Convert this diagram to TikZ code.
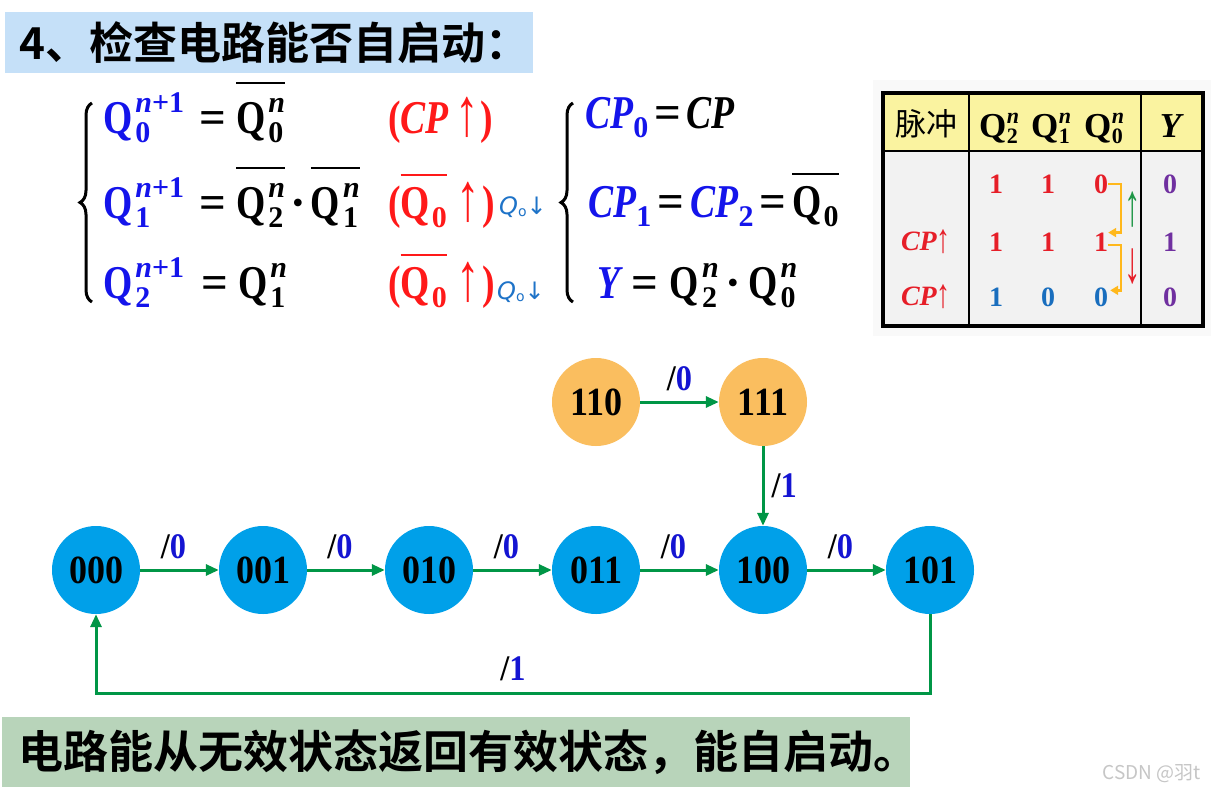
\documentclass[tikz,border=0pt]{standalone}
\usepackage{fontspec}
\usepackage{graphicx}
\usetikzlibrary{arrows.meta,decorations.pathreplacing,calc}
\setmainfont{Liberation Serif}
\newfontfamily\eqf{Liberation Serif}[FakeStretch=0.8]
\newfontfamily\stf{Liberation Serif}[FakeStretch=0.9]
\newfontfamily\cjk{Noto Sans CJK SC}[BoldFont={Noto Sans CJK SC Bold}]
\newfontfamily\hand{DejaVu Sans}
\definecolor{eqblue}{RGB}{20,20,235}
\definecolor{eqred}{RGB}{255,25,25}
\definecolor{tred}{RGB}{230,30,40}
\definecolor{tblue}{RGB}{25,110,190}
\definecolor{tpurple}{RGB}{112,48,160}
\definecolor{tgreen}{RGB}{30,150,70}
\definecolor{cblue}{RGB}{0,160,233}
\definecolor{corange}{RGB}{250,190,95}
\definecolor{lgreen}{RGB}{0,150,70}
\definecolor{titlebg}{RGB}{197,224,248}
\definecolor{banbg}{RGB}{184,212,186}
\definecolor{hdrbg}{RGB}{250,243,160}
\definecolor{bodybg}{RGB}{242,242,242}
\definecolor{tarrow}{RGB}{255,184,28}
\definecolor{hblue}{RGB}{30,115,200}
\definecolor{lbl}{RGB}{20,20,210}
\newcommand\esz{\eqf\bfseries\fontsize{47}{50}\selectfont}
\newcommand\ssz{\rmfamily\fontsize{30}{30}\selectfont}
\newcommand\QQ[2]{Q\kern3pt\rlap{\raisebox{-9pt}{\ssz #1}}\raisebox{21pt}{\ssz #2}}
\newcommand\QS[1]{Q\kern2pt\raisebox{-9pt}{\ssz #1}}
\newsavebox\obox
\newcommand\ovl[2][49pt]{\sbox\obox{#2}\rlap{\raisebox{#1}{\rule{\wd\obox}{2.5pt}}}\usebox\obox}
\newcommand\tsz{\fontsize{22}{22}\selectfont}
\newcommand\QT[1]{Q\kern0.5pt\rlap{\raisebox{-6pt}{\tsz #1}}\raisebox{14pt}{\tsz\itshape n}}
\newcommand\EQ{{\rmfamily=}}
\newcommand\uparr{{\rmfamily\mdseries\raisebox{-2pt}{\scalebox{1}[1.45]{↑}}}}
\tikzset{
  eq/.style={font=\esz, inner sep=0pt, anchor=base west},
  st/.style={circle, minimum size=88pt, inner sep=0pt, font=\stf\bfseries\fontsize{40}{40}\selectfont},
  bst/.style={st, fill=cblue},
  ost/.style={st, fill=corange},
  tr/.style={draw=lgreen, line width=3pt, -{Triangle[length=13pt,width=11pt]}},
  lb/.style={font=\stf\bfseries\fontsize{36}{36}\selectfont, inner sep=0pt},
  tb/.style={font=\bfseries\fontsize{35}{35}\selectfont, inner sep=0pt},
  td/.style={font=\bfseries\fontsize{28}{28}\selectfont, inner sep=0pt},
  hw/.style={text=hblue, font=\hand\fontsize{24}{24}\selectfont, inner sep=0pt},
  brc/.style={decorate, decoration={brace, amplitude=12pt}, line width=3pt},
}
\begin{document}
\begin{tikzpicture}[x=1pt,y=-1pt]
\useasboundingbox (0,0) rectangle (1217,793);
\fill[white] (0,0) rectangle (1217,793);
% title
\node[fill=titlebg, anchor=north west, minimum width=528pt, minimum height=61pt, inner xsep=14pt, text width=500pt, align=left, font=\cjk\bfseries\fontsize{44}{44}\selectfont] (title) at (5,12) {4、检查电路能否自启动：};
% left equations
\draw[brc] (92,302) -- (92,103);
\node[eq, text=eqblue] (l1) at (103,133) {\QQ{0}{\textit{n}+1}};
\node[eq] (e1) at (199,133) {\EQ};
\node[eq] (r1) at (236,133) {\ovl{\QQ{0}{\textit{n}}}};
\node[eq, text=eqred] (p1) at (388,133) {(\textit{CP}\kern6pt\uparr\kern2pt)};
\node[eq, text=eqblue] (l2) at (103,218) {\QQ{1}{\textit{n}+1}};
\node[eq] (e2) at (199,218) {\EQ};
\node[eq] (r2) at (236,218) {\ovl{\QQ{2}{\textit{n}}}\kern5pt{\rmfamily·}\kern5pt\ovl{\QQ{1}{\textit{n}}}};
\node[eq, text=eqred] (p2) at (388,218) {(\ovl[42pt]{\QS{0}}\kern10pt\uparr\kern2pt)};
\node[eq, text=eqblue] (l3) at (103,298) {\QQ{2}{\textit{n}+1}};
\node[eq] (e3) at (201,298) {\EQ};
\node[eq] (r3) at (238,298) {\QQ{1}{\textit{n}}};
\node[eq, text=eqred] (p3) at (388,298) {(\ovl[42pt]{\QS{0}}\kern10pt\uparr\kern2pt)};
% handwritten notes
\node[hw] (h1) at (523,207) {\textit{Q}\raisebox{-2pt}{\fontsize{14}{14}\selectfont o}↓};
\node[hw] (h2) at (521,292) {\textit{Q}\raisebox{-2pt}{\fontsize{14}{14}\selectfont o}↓};
% right equations
\draw[brc] (573,302) -- (573,103);
\node[eq] (c1) at (585,128) {\textcolor{eqblue}{\textit{CP}\raisebox{-9pt}{\ssz 0}}\kern6pt\EQ\kern5pt\textit{CP}};
\node[eq] (c2) at (588,217) {\textcolor{eqblue}{\textit{CP}\raisebox{-9pt}{\ssz 1}}\kern6pt\EQ\kern6pt\textcolor{eqblue}{\textit{CP}\raisebox{-9pt}{\ssz 2}}\kern6pt\EQ\kern6pt\ovl[42pt]{\QS{0}}};
\node[eq] (c3) at (597,298) {\textcolor{eqblue}{\textit{Y}}\kern8pt\EQ\kern12pt\QQ{2}{\textit{n}}\kern7pt{\rmfamily·}\kern7pt\QQ{0}{\textit{n}}};
% table
\fill[gray!5] (873,80) rectangle (1211,336);
\fill[hdrbg] (883,93) rectangle (1203,151);
\fill[bodybg] (883,151) rectangle (1203,326);
\draw[line width=2.5pt] (883,151) -- (1203,151) (969,93) -- (969,326) (1141,93) -- (1141,326);
\draw[line width=3.5pt] (883,93) rectangle (1203,326);
\node[font=\cjk\fontsize{31}{31}\selectfont, inner sep=0pt] (hp) at (926,124) {脉冲};
\node[tb, anchor=base] (hq2) at (999,137) {\QT{2}};
\node[tb, anchor=base] (hq1) at (1051,137) {\QT{1}};
\node[tb, anchor=base] (hq0) at (1104,137) {\QT{0}};
\node[tb, anchor=base] (hy) at (1172,137) {\textit{Y}};
\node[td, text=tred] (d11) at (996,184) {1};
\node[td, text=tred] (d12) at (1048,184) {1};
\node[td, text=tred] (d13) at (1101,184) {0};
\node[td, text=tpurple] (y1) at (1170,184) {0};
\node[td, text=tred] (cp2) at (926,242) {\textit{CP}\uparr};
\node[td, text=tred] (d21) at (996,242) {1};
\node[td, text=tred] (d22) at (1048,242) {1};
\node[td, text=tred] (d23) at (1101,242) {1};
\node[td, text=tpurple] (y2) at (1170,242) {1};
\node[td, text=tred] (cp3) at (926,297) {\textit{CP}\uparr};
\node[td, text=tblue] (d31) at (996,297) {1};
\node[td, text=tblue] (d32) at (1048,297) {0};
\node[td, text=tblue] (d33) at (1101,297) {0};
\node[td, text=tpurple] (y3) at (1170,297) {0};
\draw[tarrow, line width=2.5pt, -{Triangle[length=8pt,width=9pt]}] (d13.east) -- ++(13,0) |- (d23.north east);
\draw[tarrow, line width=2.5pt, -{Triangle[length=8pt,width=9pt]}] ($(d23.east)+(0,3)$) -- ++(13,0) |- ($(d33.north east)+(2,3)$);
\node[font=\bfseries\fontsize{30}{30}\selectfont, text=tgreen, inner sep=0pt] (ga) at (1133,210) {\scalebox{1.1}[2]{↑}};
\node[font=\bfseries\fontsize{30}{30}\selectfont, text=tred, inner sep=0pt] (ra) at (1133,267) {\scalebox{1.1}[2]{↓}};
% state diagram
\node[ost] (s110) at (596,402) {110};
\node[ost] (s111) at (763,402) {111};
\node[bst] (s000) at (96,570) {000};
\node[bst] (s001) at (263,570) {001};
\node[bst] (s010) at (429,570) {010};
\node[bst] (s011) at (596,570) {011};
\node[bst] (s100) at (763,570) {100};
\node[bst] (s101) at (930,570) {101};
\draw[tr] (s110) -- (s111) node[lb, midway, above=10pt] {/\textcolor{lbl}{0}};
\draw[tr] (s111) -- (s100) node[lb, midway, right=7pt] {/\textcolor{lbl}{1}};
\draw[tr] (s000) -- (s001) node[lb, midway, above=10pt, xshift=-6pt] {/\textcolor{lbl}{0}};
\draw[tr] (s001) -- (s010) node[lb, midway, above=10pt, xshift=-6pt] {/\textcolor{lbl}{0}};
\draw[tr] (s010) -- (s011) node[lb, midway, above=10pt, xshift=-6pt] {/\textcolor{lbl}{0}};
\draw[tr] (s011) -- (s100) node[lb, midway, above=10pt, xshift=-6pt] {/\textcolor{lbl}{0}};
\draw[tr] (s100) -- (s101) node[lb, midway, above=10pt, xshift=-6pt] {/\textcolor{lbl}{0}};
\draw[tr] (s101.south) -- ++(0,79) -| (s000.south) node[lb, pos=0.25, above=11pt] {/\textcolor{lbl}{1}};
% banner
\node[fill=banbg, anchor=north west, minimum width=908pt, minimum height=70pt, inner xsep=16pt, text width=876pt, align=left, font=\cjk\bfseries\fontsize{45}{45}\selectfont] (ban) at (2,717) {电路能从无效状态返回有效状态，能自启动。};
\node[text=gray!45, font=\cjk\fontsize{19}{19}\selectfont, inner sep=0pt] (wm) at (1152,774) {CSDN @羽t};
\end{tikzpicture}
\end{document}
